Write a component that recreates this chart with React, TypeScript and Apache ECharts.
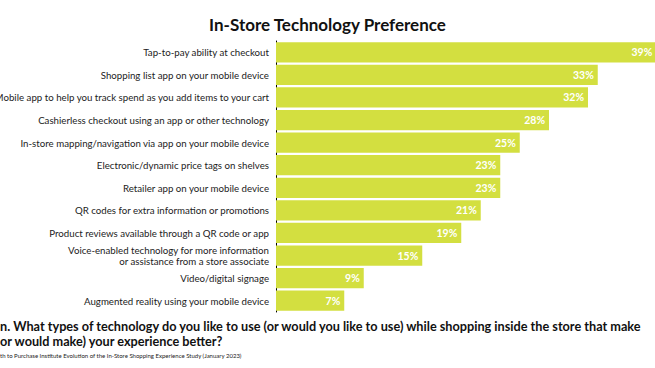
import React, { useEffect, useRef } from "react";
import * as echarts from "echarts";

const categories = [
  "Tap-to-pay ability at checkout",
  "Shopping list app on your mobile device",
  "Mobile app to help you track spend as you add items to your cart",
  "Cashierless checkout using an app or other technology",
  "In-store mapping/navigation via app on your mobile device",
  "Electronic/dynamic price tags on shelves",
  "Retailer app on your mobile device",
  "QR codes for extra information or promotions",
  "Product reviews available through a QR code or app",
  "Voice-enabled technology for more information\nor assistance from a store associate",
  "Video/digital signage",
  "Augmented reality using your mobile device",
];
const values = [39, 33, 32, 28, 25, 23, 23, 21, 19, 15, 9, 7];

const titleText = "In-Store Technology Preference";
const questionLine1 =
  "n. What types of technology do you like to use (or would you like to use) while shopping inside the store that make";
const questionLine2 = "or would make) your experience better?";
const sourceText =
  "th to Purchase Institute Evolution of the In-Store Shopping Experience Study (January 2023)";

const FONT = "Lato, 'Noto Sans', sans-serif";

export default function App() {
  const ref = useRef<HTMLDivElement>(null);
  useEffect(() => {
    if (!ref.current) return;
    const chart = echarts.init(ref.current, undefined, { renderer: "svg" });
    chart.setOption({
      animation: false,
      backgroundColor: "#ffffff",
      textStyle: { fontFamily: FONT },
      title: {
        text: titleText,
        left: "center",
        top: 11,
        textStyle: { fontFamily: FONT, fontSize: 17, fontWeight: "bold", color: "#111" },
      },
      grid: {
        left: 276,
        top: 41,
        width: 390,
        height: 271,
        containLabel: false,
        outerBoundsMode: "none",
      },
      xAxis: {
        type: "value",
        min: 0,
        max: 40,
        show: false,
      },
      yAxis: {
        type: "category",
        data: categories,
        inverse: true,
        axisLine: { show: true, lineStyle: { color: "#000", width: 1 } },
        axisTick: { show: false },
        axisLabel: {
          fontFamily: FONT,
          fontSize: 9.7,
          color: "#222",
          margin: 7,
          lineHeight: 11,
        },
      },
      series: [
        {
          type: "bar",
          data: values,
          barCategoryGap: "10%",
          itemStyle: { color: "#d3df40" },
          label: {
            show: true,
            position: "insideRight",
            formatter: "{c}%",
            color: "#fff",
            fontWeight: "bold",
            fontSize: 10.5,
            fontFamily: FONT,
            distance: 4,
          },
        },
      ],
      graphic: [
        {
          type: "text",
          left: 0,
          top: 319,
          style: { text: questionLine1, font: `bold 12.7px ${FONT}`, fill: "#111" },
        },
        {
          type: "text",
          left: 0,
          top: 334,
          style: { text: questionLine2, font: `bold 12.7px ${FONT}`, fill: "#111" },
        },
        {
          type: "text",
          left: 0,
          top: 352,
          style: { text: sourceText, font: `6px ${FONT}`, fill: "#222" },
        },
      ],
    });
    return () => chart.dispose();
  }, []);
  return <div ref={ref} style={{ width: 655, height: 368, position: "fixed", left: 0, top: 0 }} />;
}
